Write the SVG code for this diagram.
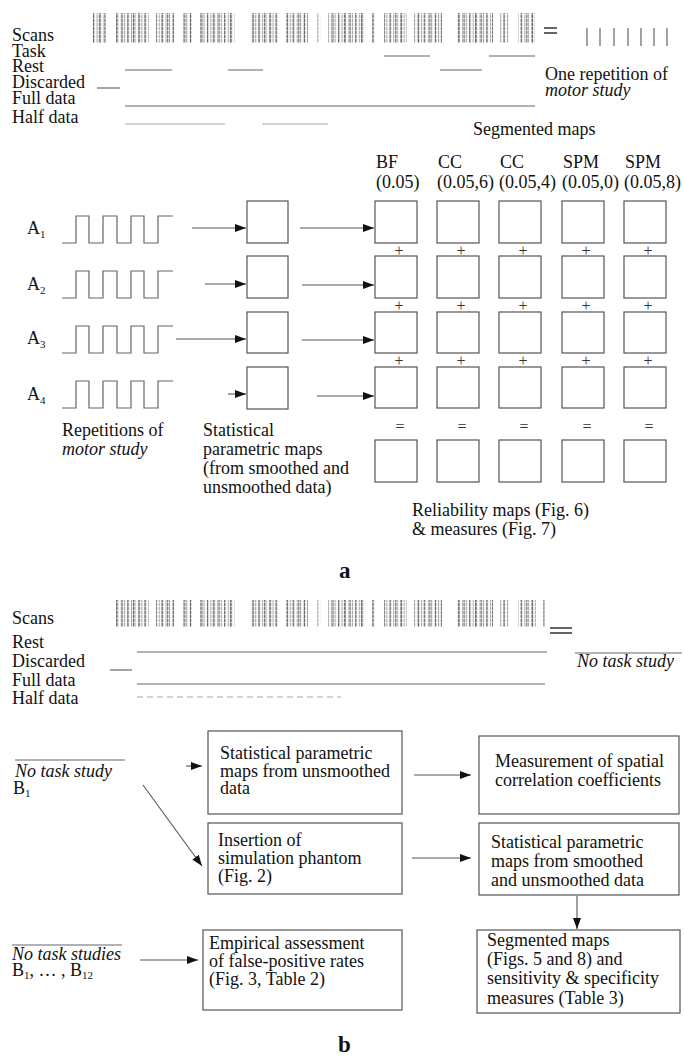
<svg xmlns="http://www.w3.org/2000/svg" width="684" height="1063" viewBox="0 0 684 1063">
<defs>
<style>
text{font-family:"Liberation Serif","Times New Roman",serif;font-size:18px;fill:#111}
.it{font-style:italic}
.bold{font-weight:bold;font-size:23px}
.sub{font-size:11px}
.sym{font-size:16px;text-anchor:middle;fill:#333}
.box{fill:none;stroke:#555;stroke-width:1.2}
.ln{fill:none;stroke:#666;stroke-width:1.2}
.faint{fill:none;stroke:#aaa;stroke-width:1.2}
.arr{fill:none;stroke:#555;stroke-width:1.1;marker-end:url(#ah)}
.wave{fill:none;stroke:#666;stroke-width:1.2}
.eq{fill:none;stroke:#333;stroke-width:1.5}
</style>
<marker id="ah" markerUnits="userSpaceOnUse" markerWidth="11" markerHeight="8" refX="11" refY="4" orient="auto"><path d="M0,0 L11,4 L0,8 z" fill="#111"/></marker>
<pattern id="p1" patternUnits="userSpaceOnUse" width="3.45" height="10"><rect width="1" height="10" fill="#999"/></pattern>
<pattern id="p2" patternUnits="userSpaceOnUse" width="5.7" height="10"><rect x="2" width="1" height="10" fill="#555"/></pattern>
<pattern id="gap" patternUnits="userSpaceOnUse" width="43" height="10"><rect x="20" width="7" height="10" fill="#fff"/></pattern>
<pattern id="gap2" patternUnits="userSpaceOnUse" width="67" height="10"><rect x="40" width="9" height="10" fill="#fff"/></pattern>
<pattern id="dots" patternUnits="userSpaceOnUse" width="10" height="4"><rect y="2" width="10" height="1" fill="#fff" fill-opacity="0.5"/></pattern>
</defs>

<!-- ===== Part a ===== -->
<g id="a-timeline">
  <text x="12" y="41">Scans</text>
  <text x="12" y="57">Task</text>
  <text x="12" y="72">Rest</text>
  <text x="12" y="88">Discarded</text>
  <text x="12" y="104">Full data</text>
  <text x="12" y="123">Half data</text>
  <rect x="93" y="13" width="442" height="30" fill="url(#p1)"/>
  <rect x="93" y="13" width="442" height="30" fill="url(#p2)"/>
  <rect x="93" y="13" width="442" height="30" fill="url(#gap)"/>
  <rect x="93" y="13" width="442" height="30" fill="url(#gap2)"/>
  <rect x="93" y="13" width="442" height="30" fill="url(#dots)"/>
  <path class="ln" d="M384 56H430 M489 56H535"/>
  <path class="ln" d="M125 70H172 M228 70H263 M440 70H482"/>
  <path class="ln" d="M97 88H120"/>
  <path class="ln" d="M125 106H535"/>
  <path class="faint" d="M125 124H225 M262 124H328"/>
  <path class="eq" d="M544 28H557 M544 33H557"/>
  <path class="ln" d="M587 28V46 M600 28V46 M614 28V46 M628 28V46 M641 28V46 M654 28V46 M667 28V46"/>
  <text x="545" y="80">One repetition of</text>
  <text x="545" y="96" class="it">motor study</text>
</g>

<g id="a-headers">
  <text x="473" y="135">Segmented maps</text>
  <text x="376" y="168">BF</text>
  <text x="376" y="188">(0.05)</text>
  <text x="438" y="168">CC</text>
  <text x="437" y="188">(0.05,6)</text>
  <text x="500" y="168">CC</text>
  <text x="499" y="188">(0.05,4)</text>
  <text x="563" y="168">SPM</text>
  <text x="562" y="188">(0.05,0)</text>
  <text x="625" y="168">SPM</text>
  <text x="624" y="188">(0.05,8)</text>
</g>

<g id="a-repetitions">
  <text x="27" y="234">A<tspan class="sub" dy="4">1</tspan></text>
  <text x="27" y="290">A<tspan class="sub" dy="4">2</tspan></text>
  <text x="27" y="344">A<tspan class="sub" dy="4">3</tspan></text>
  <text x="27" y="400">A<tspan class="sub" dy="4">4</tspan></text>
  <path class="wave" d="M62 243H76V216H89V243H103V216H117V243H131V216H144V243H158V216H173"/>
  <path class="wave" d="M62 298H76V271H89V298H103V271H117V298H131V271H144V298H158V271H173"/>
  <path class="wave" d="M62 353H76V326H89V353H103V326H117V353H131V326H144V353H158V326H173"/>
  <path class="wave" d="M62 408H76V381H89V408H103V381H117V408H131V381H144V408H158V381H173"/>
  <text x="62" y="436">Repetitions of</text>
  <text x="62" y="455" class="it">motor study</text>
</g>

<g id="a-spm">
  <rect class="box" x="247" y="201" width="41" height="42"/>
  <rect class="box" x="247" y="256" width="41" height="42"/>
  <rect class="box" x="247" y="312" width="41" height="41"/>
  <rect class="box" x="247" y="367" width="41" height="42"/>
  <text x="203" y="436">Statistical</text>
  <text x="203" y="455">parametric maps</text>
  <text x="203" y="474">(from smoothed and</text>
  <text x="203" y="493">unsmoothed data)</text>
</g>

<g id="a-segmented">
  <g class="box">
    <rect x="375" y="201" width="42" height="42"/><rect x="437" y="201" width="42" height="42"/><rect x="499" y="201" width="42" height="42"/><rect x="562" y="201" width="42" height="42"/><rect x="624" y="201" width="42" height="42"/>
    <rect x="375" y="256" width="42" height="42"/><rect x="437" y="256" width="42" height="42"/><rect x="499" y="256" width="42" height="42"/><rect x="562" y="256" width="42" height="42"/><rect x="624" y="256" width="42" height="42"/>
    <rect x="375" y="312" width="42" height="41"/><rect x="437" y="312" width="42" height="41"/><rect x="499" y="312" width="42" height="41"/><rect x="562" y="312" width="42" height="41"/><rect x="624" y="312" width="42" height="41"/>
    <rect x="375" y="367" width="42" height="41"/><rect x="437" y="367" width="42" height="41"/><rect x="499" y="367" width="42" height="41"/><rect x="562" y="367" width="42" height="41"/><rect x="624" y="367" width="42" height="41"/>
  </g>
  <g>
    <text class="sym" x="399" y="256">+</text><text class="sym" x="461" y="256">+</text><text class="sym" x="523" y="256">+</text><text class="sym" x="586" y="256">+</text><text class="sym" x="648" y="256">+</text>
    <text class="sym" x="399" y="311">+</text><text class="sym" x="461" y="311">+</text><text class="sym" x="523" y="311">+</text><text class="sym" x="586" y="311">+</text><text class="sym" x="648" y="311">+</text>
    <text class="sym" x="399" y="366">+</text><text class="sym" x="461" y="366">+</text><text class="sym" x="523" y="366">+</text><text class="sym" x="586" y="366">+</text><text class="sym" x="648" y="366">+</text>
    <text class="sym" x="400" y="432">=</text><text class="sym" x="462" y="432">=</text><text class="sym" x="524" y="432">=</text><text class="sym" x="587" y="432">=</text><text class="sym" x="649" y="432">=</text>
  </g>
</g>

<g id="a-reliability">
  <g class="box">
    <rect x="375" y="440" width="42" height="42"/><rect x="437" y="440" width="42" height="42"/><rect x="499" y="440" width="42" height="42"/><rect x="562" y="440" width="42" height="42"/><rect x="624" y="440" width="42" height="42"/>
  </g>
  <text x="412" y="516">Reliability maps (Fig. 6)</text>
  <text x="412" y="535">&amp; measures (Fig. 7)</text>
</g>

<text x="339" y="578" class="bold">a</text>

<!-- ===== Part b ===== -->
<g id="b-timeline">
  <text x="12" y="624">Scans</text>
  <text x="12" y="648">Rest</text>
  <text x="12" y="667">Discarded</text>
  <text x="12" y="686">Full data</text>
  <text x="12" y="704">Half data</text>
  <rect x="108" y="600" width="437" height="27" fill="url(#p1)"/>
  <rect x="108" y="600" width="437" height="27" fill="url(#p2)"/>
  <rect x="108" y="600" width="437" height="27" fill="url(#gap)"/>
  <rect x="108" y="600" width="437" height="27" fill="url(#gap2)"/>
  <rect x="108" y="600" width="437" height="27" fill="url(#dots)"/>
  <path class="eq" d="M550 628H572 M550 633H572"/>
  <path class="ln" d="M137 652H547"/>
  <path class="ln" d="M110 670H132"/>
  <path class="ln" d="M137 684H545"/>
  <path class="faint" d="M137 697H341" stroke-dasharray="6 4"/>
  <path class="ln" d="M575 653H682"/>
  <text x="577" y="667" class="it">No task study</text>
</g>

<g id="b-notask1">
  <path class="ln" d="M15 760H125"/>
  <text x="15" y="777" class="it">No task study</text>
  <text x="13" y="794">B<tspan class="sub" dy="3">1</tspan></text>
</g>

<g id="b-notask12">
  <path class="ln" d="M12 945H122"/>
  <text x="12" y="960" class="it">No task studies</text>
  <text x="12" y="976">B<tspan class="sub" dy="3">1</tspan><tspan dy="-3">, … , B</tspan><tspan class="sub" dy="3">12</tspan></text>
</g>

<g id="b-spm-unsmoothed">
  <rect class="box" x="208" y="731" width="194" height="83"/>
  <text x="220" y="759">Statistical parametric</text>
  <text x="220" y="777">maps from unsmoothed</text>
  <text x="220" y="794">data</text>
</g>

<g id="b-insertion">
  <rect class="box" x="208" y="823" width="194" height="71"/>
  <text x="218" y="846">Insertion of</text>
  <text x="218" y="864">simulation phantom</text>
  <text x="218" y="882">(Fig. 2)</text>
</g>

<g id="b-empirical">
  <rect class="box" x="203" y="930" width="199" height="80"/>
  <text x="209" y="949">Empirical assessment</text>
  <text x="209" y="967">of false-positive rates</text>
  <text x="209" y="985">(Fig. 3, Table 2)</text>
</g>

<g id="b-measurement">
  <rect class="box" x="479" y="736" width="200" height="78"/>
  <text x="495" y="767">Measurement of spatial</text>
  <text x="495" y="786">correlation coefficients</text>
</g>

<g id="b-spm-both">
  <rect class="box" x="479" y="823" width="200" height="72"/>
  <text x="491" y="848">Statistical parametric</text>
  <text x="491" y="867">maps from smoothed</text>
  <text x="491" y="886">and unsmoothed data</text>
</g>

<g id="b-segmented">
  <rect class="box" x="477" y="930" width="203" height="83"/>
  <text x="487" y="946">Segmented maps</text>
  <text x="487" y="965">(Figs. 5 and 8) and</text>
  <text x="487" y="984">sensitivity &amp; specificity</text>
  <text x="487" y="1004">measures (Table 3)</text>
</g>

<text x="338" y="1052" class="bold">b</text>

<g id="connectors">
  <path class="arr" d="M192 228H246"/>
  <path class="arr" d="M205 284H246"/>
  <path class="arr" d="M176 339H246"/>
  <path class="arr" d="M228 394H246"/>
  <path class="arr" d="M300 228H374"/>
  <path class="arr" d="M302 285H374"/>
  <path class="arr" d="M302 340H374"/>
  <path class="arr" d="M317 396H374"/>
  <path class="arr" d="M186 766H202"/>
  <path class="arr" d="M143 785L202 866"/>
  <path class="arr" d="M140 960H198"/>
  <path class="arr" d="M414 775H471"/>
  <path class="arr" d="M412 858H471"/>
  <path class="arr" d="M577 896V929"/>
</g>
</svg>
